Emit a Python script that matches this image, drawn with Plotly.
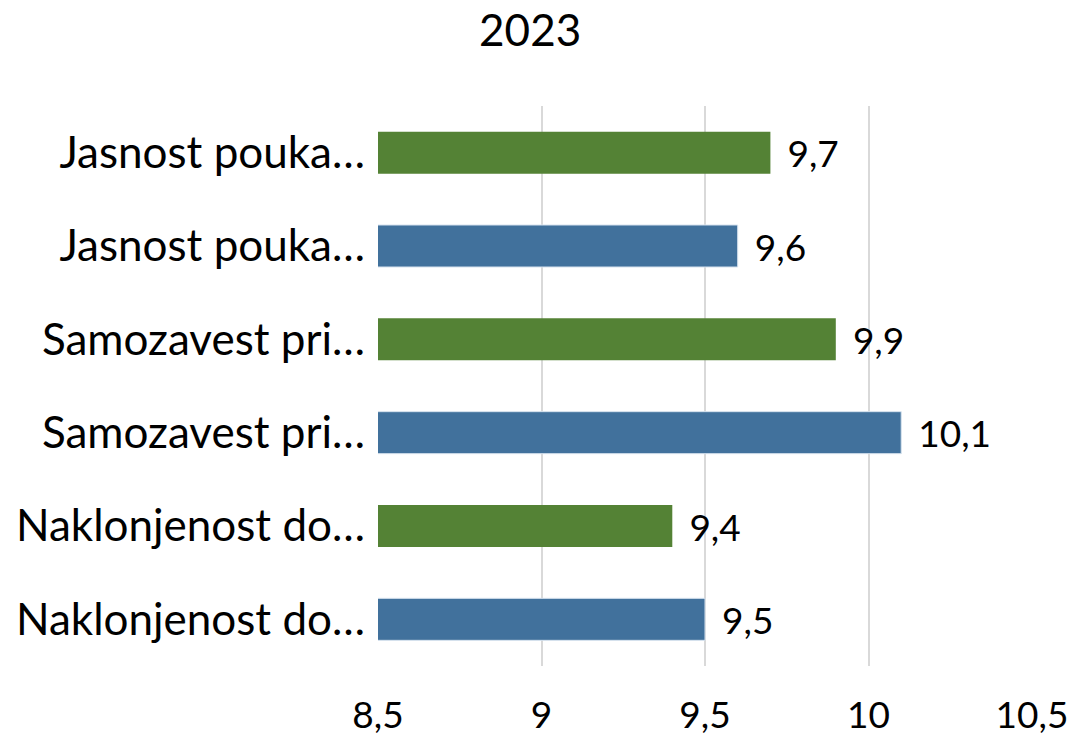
import plotly.graph_objects as go

title = "2023"
ids = ["c1", "c2", "c3", "c4", "c5", "c6"]
labels = ["Jasnost pouka…", "Jasnost pouka…", "Samozavest pri…",
          "Samozavest pri…", "Naklonjenost do…", "Naklonjenost do…"]
values = [9.7, 9.6, 9.9, 10.1, 9.4, 9.5]
green = "#548235"
blue = "#41719C"
colors = [green, blue, green, blue, green, blue]
line_colors = ["rgba(0,0,0,0)", "#d6e2ee", "rgba(0,0,0,0)", "#d6e2ee", "rgba(0,0,0,0)", "#d6e2ee"]
xticks = [8.5, 9, 9.5, 10, 10.5]
xticktext = ["8,5", "9", "9,5", "10", "10,5"]
value_text = ["\u00a0\u200a\u200a" + f"{v}".replace(".", ",") for v in values]

FONT = "Lato"

fig = go.Figure(go.Bar(
    y=ids, x=values, orientation="h",
    marker=dict(color=colors, line=dict(color=line_colors, width=1)),
    text=value_text, textposition="outside", constraintext="none",
    textfont=dict(family=FONT, size=37, color="#000000"),
    cliponaxis=False,
))

fig.update_layout(
    width=1071, height=739,
    paper_bgcolor="white", plot_bgcolor="white",
    margin=dict(l=378, r=39, t=106, b=73),
    bargap=0.55,
    showlegend=False,
    title=dict(text=title, x=0.495, xanchor="center", y=0.958, yanchor="middle",
               font=dict(family=FONT, size=44, color="#000000")),
    font=dict(family=FONT, size=37, color="#000000"),
    xaxis=dict(range=[8.5, 10.5], tickmode="array", tickvals=xticks, ticktext=xticktext,
               showgrid=True, gridcolor="#d9d9d9", gridwidth=1.5, zeroline=False,
               showline=False, ticks="", ticklabelstandoff=24, automargin=False,
               tickfont=dict(family=FONT, size=37, color="#000000")),
    yaxis=dict(categoryorder="array", categoryarray=list(reversed(ids)),
               tickmode="array", tickvals=ids, ticktext=labels,
               showgrid=False, zeroline=False, showline=False, ticks="",
               ticklabelstandoff=12, automargin=False,
               tickfont=dict(family=FONT, size=44, color="#000000")),
)

fig.write_html("out.html", config={"displayModeBar": False},
               post_script="document.body.style.margin='0';document.body.style.overflow='hidden';")
